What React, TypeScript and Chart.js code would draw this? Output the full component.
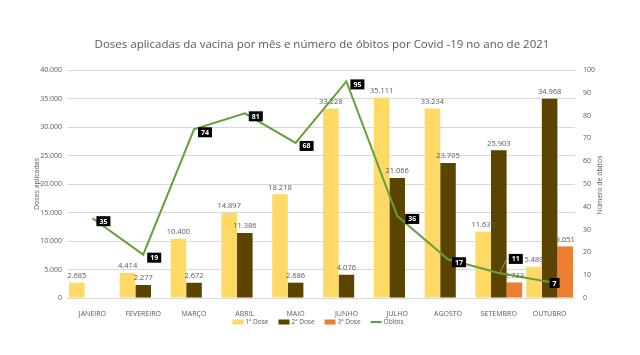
import React, { useEffect, useRef } from 'react';
import { Chart, registerables } from 'chart.js';

Chart.register(...registerables);

const chartTitle = 'Doses aplicadas da vacina por mês e número de óbitos por Covid -19 no ano de 2021';
const categories = ['JANEIRO', 'FEVEREIRO', 'MARÇO', 'ABRIL', 'MAIO', 'JUNHO', 'JULHO', 'AGOSTO', 'SETEMBRO', 'OUTUBRO'];
const dose1 = [2685, 4414, 10400, 14897, 18218, 33228, 35111, 33234, 11630, 5489];
const dose2 = [null, 2277, 2672, 11386, 2686, 4076, 21066, 23705, 25903, 34968];
const dose3 = [null, null, null, null, null, null, null, null, 2733, 9051];
const obitos = [35, 19, 74, 81, 68, 95, 36, 17, 11, 7];
const seriesNames = ['1ª Dose', '2ª Dose', '3ª Dose', 'Óbitos'];
const leftAxisTitle = 'Doses aplicadas';
const rightAxisTitle = 'Número de óbitos';
const leftMax = 40000;
const leftStep = 5000;
const rightMax = 100;
const rightStep = 10;

const FONT = "'Open Sans', sans-serif";
const TEXT = '#595959';
const COLORS = ['#FFD966', '#5A4400', '#ED7D31', '#66A03D'];

const fmt = (v: number) => String(Math.round(v)).replace(/\B(?=(\d{3})+(?!\d))/g, '.');

const drawPlugin = {
  id: 'customDraw',
  afterDraw(chart: any) {
    const ctx = chart.ctx;
    const area = chart.chartArea;
    ctx.save();
    // Title
    ctx.fillStyle = TEXT;
    ctx.font = `11.5px ${FONT}`;
    ctx.textAlign = 'center';
    ctx.textBaseline = 'middle';
    ctx.fillText(chartTitle, 322, 45);

    // Axis titles
    ctx.font = `7px ${FONT}`;
    const cy = (area.top + area.bottom) / 2;
    ctx.save();
    ctx.translate(37, cy);
    ctx.rotate(-Math.PI / 2);
    ctx.fillText(leftAxisTitle, 0, 0);
    ctx.restore();
    ctx.save();
    ctx.translate(600, cy + 1);
    ctx.rotate(-Math.PI / 2);
    ctx.fillText(rightAxisTitle, 0, 0);
    ctx.restore();

    // Bar value labels
    ctx.font = `7.5px ${FONT}`;
    ctx.textAlign = 'center';
    ctx.textBaseline = 'bottom';
    ctx.fillStyle = TEXT;
    [0, 1, 2].forEach((di) => {
      const meta = chart.getDatasetMeta(di);
      const data = chart.data.datasets[di].data;
      meta.data.forEach((el: any, i: number) => {
        const v = data[i];
        if (v == null) return;
        ctx.fillText(fmt(v), el.x, el.y - 3);
      });
    });

    // Line data labels (black boxes)
    const lmeta = chart.getDatasetMeta(3);
    ctx.font = `bold 7px ${FONT}`;
    ctx.textAlign = 'center';
    ctx.textBaseline = 'middle';
    lmeta.data.forEach((el: any, i: number) => {
      const v = obitos[i];
      const txt = String(v);
      const w = ctx.measureText(txt).width + 6;
      const h = 10;
      let bx = el.x + 4;
      let by = el.y + 3;
      if (i === 8) {
        bx = el.x + 10;
        by = el.y - 14;
        ctx.strokeStyle = '#a6a6a6';
        ctx.lineWidth = 0.8;
        ctx.beginPath();
        ctx.moveTo(el.x + 1, el.y);
        ctx.lineTo(el.x + 8, by);
        ctx.lineTo(bx, by);
        ctx.stroke();
      }
      if (i === 6) bx = el.x + 8;
      if (i === 9) { bx = el.x; by = el.y + 1; }
      ctx.fillStyle = '#000000';
      ctx.fillRect(bx, by - h / 2, w, h);
      ctx.fillStyle = '#ffffff';
      ctx.fillText(txt, bx + w / 2, by + 0.5);
    });

    // Legend
    ctx.font = `6.5px ${FONT}`;
    ctx.textAlign = 'left';
    ctx.textBaseline = 'middle';
    const ly = 322;
    const boxW = 11;
    const gap = 2;
    const itemGap = 10;
    const widths = seriesNames.map((n) => boxW + gap + ctx.measureText(n).width);
    const total = widths.reduce((a, b) => a + b, 0) + itemGap * (seriesNames.length - 1);
    let x = 318 - total / 2;
    seriesNames.forEach((n, i) => {
      if (i < 3) {
        ctx.fillStyle = COLORS[i];
        ctx.fillRect(x, ly - 2.5, boxW, 5);
      } else {
        ctx.strokeStyle = COLORS[i];
        ctx.lineWidth = 2;
        ctx.beginPath();
        ctx.moveTo(x, ly);
        ctx.lineTo(x + boxW, ly);
        ctx.stroke();
      }
      ctx.fillStyle = TEXT;
      ctx.fillText(n, x + boxW + gap, ly);
      x += widths[i] + itemGap;
    });
    ctx.restore();
  },
};

export default function App() {
  const ref = useRef<HTMLCanvasElement | null>(null);
  useEffect(() => {
    if (!ref.current) return;
    const tickFont = { family: FONT, size: 7 };
    const chart = new Chart(ref.current, {
      type: 'bar',
      data: {
        labels: categories,
        datasets: [
          { type: 'bar', label: seriesNames[0], data: dose1, backgroundColor: COLORS[0], yAxisID: 'y', order: 2, categoryPercentage: 0.92, barPercentage: 1 },
          { type: 'bar', label: seriesNames[1], data: dose2, backgroundColor: COLORS[1], yAxisID: 'y', order: 2, categoryPercentage: 0.92, barPercentage: 1 },
          { type: 'bar', label: seriesNames[2], data: dose3, backgroundColor: COLORS[2], yAxisID: 'y', order: 2, categoryPercentage: 0.92, barPercentage: 1 },
          { type: 'line', label: seriesNames[3], data: obitos, borderColor: COLORS[3], backgroundColor: COLORS[3], borderWidth: 2, pointRadius: 0, tension: 0, yAxisID: 'y1', order: 0 },
        ] as any,
      },
      plugins: [drawPlugin],
      options: {
        responsive: false,
        animation: false,
        layout: { padding: { top: 70, bottom: 37, left: 0, right: 0 } },
        plugins: { legend: { display: false }, title: { display: false }, tooltip: { enabled: false } },
        scales: {
          x: {
            grid: { display: false },
            border: { display: false },
            ticks: { font: tickFont, color: TEXT, maxRotation: 0, autoSkip: false, padding: 4 },
            afterFit: (s: any) => { s.height = 20; },
          },
          y: {
            position: 'left',
            min: 0,
            max: leftMax,
            ticks: { stepSize: leftStep, callback: (v: any) => fmt(Number(v)), font: tickFont, color: TEXT, padding: 5 },
            grid: { color: '#d9d9d9', drawTicks: false, lineWidth: 1 },
            border: { display: false },
            afterFit: (s: any) => { s.width = 67; },
          },
          y1: {
            position: 'right',
            min: 0,
            max: rightMax,
            ticks: { stepSize: rightStep, font: tickFont, color: TEXT, padding: 8 },
            grid: { display: false, drawTicks: false },
            border: { display: false },
            afterFit: (s: any) => { s.width = 65; },
          },
        },
      } as any,
    });
    return () => chart.destroy();
  }, []);
  return (
    <div style={{ position: 'absolute', left: 0, top: 0, width: 640, height: 355, background: '#fff' }}>
      <canvas ref={ref} width={640} height={355} style={{ display: 'block' }} />
    </div>
  );
}
